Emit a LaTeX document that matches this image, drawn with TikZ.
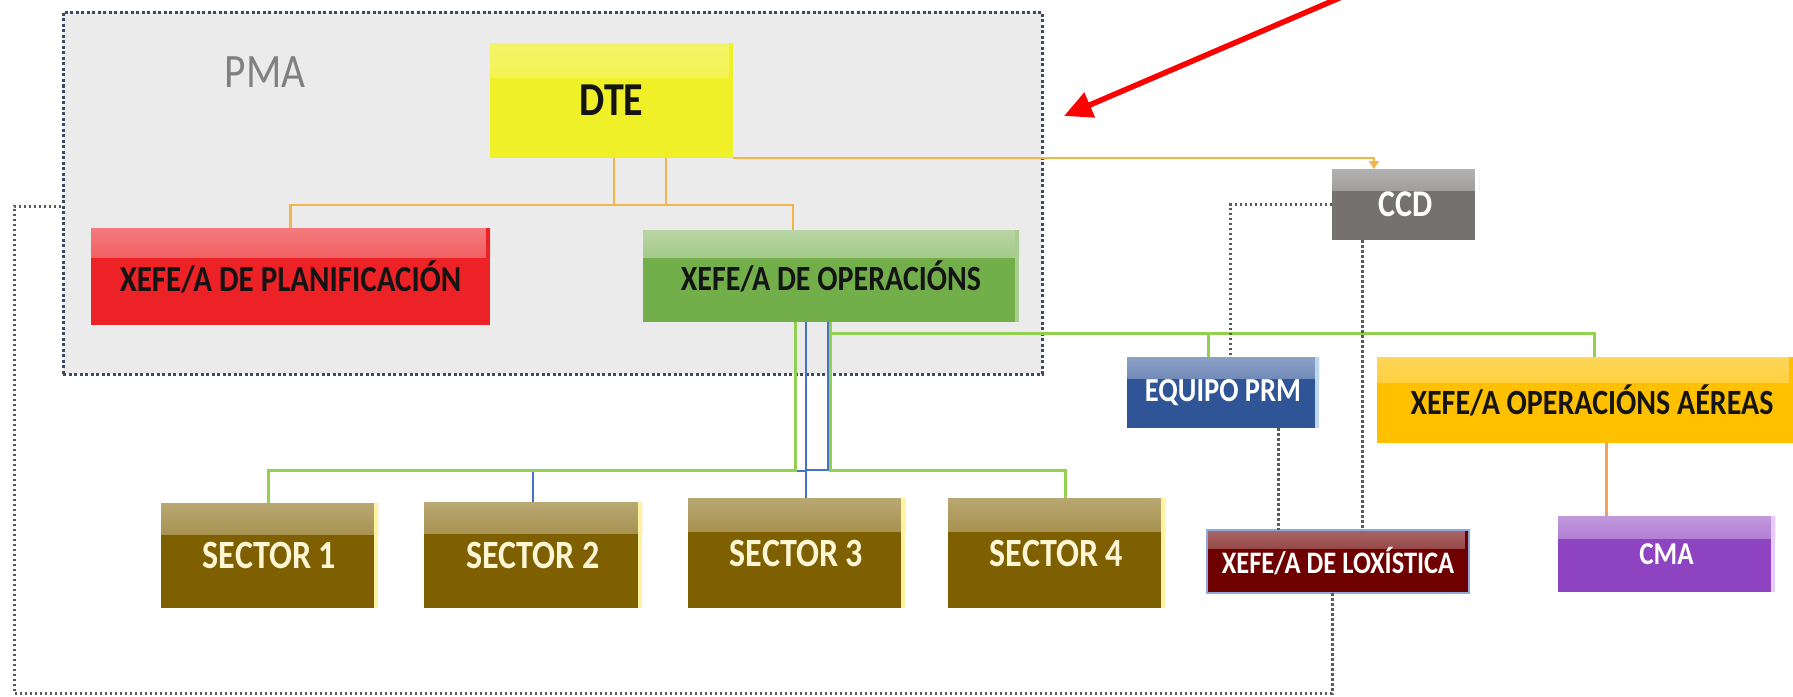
\documentclass[tikz,border=0pt]{standalone}
\usepackage{fontspec}
\setmainfont{Carlito}
\usetikzlibrary{calc,arrows.meta}
\definecolor{pmafill}{HTML}{EBEBEB}
\definecolor{pmaline}{HTML}{3C4A66}
\definecolor{dteY}{HTML}{F0F028}
\definecolor{planR}{HTML}{EC2227}
\definecolor{operG}{HTML}{72AE4A}
\definecolor{sectC}{HTML}{7F6000}
\definecolor{sectRim}{HTML}{FFF2A0}
\definecolor{ccdG}{HTML}{767171}
\definecolor{prmB}{HTML}{2F5597}
\definecolor{prmRim}{HTML}{BDD7EE}
\definecolor{aerY}{HTML}{FFC000}
\definecolor{loxR}{HTML}{6E0000}
\definecolor{loxBorder}{HTML}{8FAADC}
\definecolor{cmaP}{HTML}{8E44C0}
\definecolor{cmaRim}{HTML}{E6CCFA}
\definecolor{orl}{HTML}{F4B448}
\definecolor{grl}{HTML}{92D050}
\definecolor{bll}{HTML}{4472C4}
\definecolor{cmaO}{HTML}{F5A05A}
\definecolor{dotg}{HTML}{5A5A5A}
\definecolor{lighttxt}{HTML}{FFF6D5}
\definecolor{darktxt}{HTML}{141414}
\newcommand\fsz[1]{\fontsize{#1}{#1}\selectfont\bfseries}
\newcommand\tx[1]{\scalebox{1}[1.18]{#1}}
\begin{document}
\begin{tikzpicture}[x=1pt,y=-1pt,
  box/.style={rectangle, inner sep=0pt, outer sep=0pt, align=center},
  bev/.style n args={3}{fill=#1, /utils/exec={\colorlet{mc}{#1}\colorlet{rc}{#2}},
    path picture={
      \shade[top color=mc!#3!white, bottom color=mc]
        (path picture bounding box.north west) rectangle
        ($(path picture bounding box.north east)!0.3!(path picture bounding box.south east)$);
      \fill[rc] ($(path picture bounding box.north east)+(-4pt,0pt)$) rectangle (path picture bounding box.south east);
    }},
  orline/.style={draw=orl, line width=2.5pt},
  grline/.style={draw=grl, line width=3pt},
  blline/.style={draw=bll, line width=2.5pt},
  dotline/.style={draw=dotg, line width=3pt, dash pattern=on 2.5pt off 2.5pt},
]
\useasboundingbox (0,0) rectangle (1793,696);
\fill[white] (0,0) rectangle (1793,696);

% PMA frame
\node[box, fill=pmafill, draw=pmaline, line width=3pt, dash pattern=on 3pt off 2.5pt,
  minimum width=979pt, minimum height=362pt] (pma) at (552.5,193) {};
\node[text=gray, font=\fontsize{48}{48}\selectfont] (pmalbl) at (265,72) {\scalebox{0.86}[1]{PMA}};

% boxes
\node[box, bev={dteY}{dteY}{70}, minimum width=243pt, minimum height=115pt, text=darktxt, font=\fsz{40}] (dte) at (611.5,100.5) {\tx{DTE}};
\node[box, bev={planR}{planR}{60}, minimum width=399pt, minimum height=97pt, text=darktxt, font=\fsz{31}] (plan) at (290.5,276.5) {\tx{XEFE/A DE PLANIFICACIÓN}};
\node[box, bev={operG}{operG!60!white}{50}, minimum width=376pt, minimum height=92pt, text=darktxt, font=\fsz{30}] (oper) at (831,276) {\tx{XEFE/A DE OPERACIÓNS}};
\node[box, bev={ccdG}{white}{55}, minimum width=147pt, minimum height=71pt, text=white, font=\fsz{32}] (ccd) at (1405.5,204.5) {\tx{CCD}};
\node[box, bev={prmB}{prmRim}{55}, minimum width=192pt, minimum height=71pt, text=white, font=\fsz{28.5}] (prm) at (1223,392.5) {\tx{EQUIPO PRM}};
\node[box, bev={aerY}{aerY}{65}, minimum width=416pt, minimum height=86pt, text=darktxt, font=\fsz{30}] (aer) at (1585,400) {\hspace*{14pt}\tx{XEFE/A OPERACIÓNS AÉREAS}};
\node[box, bev={loxR}{loxR}{60}, draw=loxBorder, line width=2pt, minimum width=262pt, minimum height=63pt, text=white, font=\fsz{26.5}] (lox) at (1338,561.5) {\tx{XEFE/A DE LOXÍSTICA}};
\node[box, bev={cmaP}{cmaRim}{55}, minimum width=217pt, minimum height=76pt, text=white, font=\fsz{27}] (cma) at (1666.5,554) {\tx{CMA}};
\node[box, bev={sectC}{sectRim}{55}, minimum width=217pt, minimum height=105pt, text=lighttxt, font=\fsz{34}] (s1) at (269.5,555.5) {\tx{SECTOR 1}};
\node[box, bev={sectC}{sectRim}{55}, minimum width=218pt, minimum height=106pt, text=lighttxt, font=\fsz{34}] (s2) at (533,555) {\tx{SECTOR 2}};
\node[box, bev={sectC}{sectRim}{55}, minimum width=217pt, minimum height=110pt, text=lighttxt, font=\fsz{34}] (s3) at (796.5,553) {\tx{SECTOR 3}};
\node[box, bev={sectC}{sectRim}{55}, minimum width=217pt, minimum height=110pt, text=lighttxt, font=\fsz{34}] (s4) at (1056.5,553) {\tx{SECTOR 4}};

% orange connectors from DTE
\draw[orline] (614,0 |- dte.south) -- (614,205);
\draw[orline] (666,0 |- dte.south) -- (666,205);
\draw[orline] (plan.north) -- (290.5,205) -- (793,205) -- (793,0 |- oper.north);
\draw[orline, -{Triangle[length=8pt,width=10pt]}] (dte.south east) -- (1374,158) -- (1374,0 |- ccd.north);

% blue connectors
\draw[blline] (806,0 |- oper.south) -- (806,470) -- (828,470) -- (828,0 |- oper.south);
\draw[blline] (533,0 |- s2.north) -- (533,471) -- (806,471) -- (806,0 |- s3.north);

% green connectors
\draw[grline] (795,0 |- oper.south) -- (795,470) -- (268,470) -- (268,0 |- s1.north);
\draw[grline] (830,0 |- oper.south) -- (830,470) -- (1065,470) -- (1065,0 |- s4.north);
\draw[grline] (830,333) -- (1594,333) -- (1594,0 |- aer.north);
\draw[grline] (1208,333) -- (1208,0 |- prm.north);

% orange to CMA
\draw[draw=cmaO, line width=3pt] (1606,0 |- aer.south) -- (1606,0 |- cma.north);

% dotted connectors
\draw[dotline] (ccd.west) -- (1230,0 |- ccd.west) -- (1230,0 |- prm.north);
\draw[dotline] (1362,0 |- ccd.south) -- (1362,0 |- lox.north);
\draw[dotline] (1278,0 |- prm.south) -- (1278,0 |- lox.north);
\draw[dotline] (1332,0 |- lox.south) -- (1332,693) -- (14,693) -- (14,206) -- (pma.west |- 0,206);

% red arrow
\coordinate (arrS) at (1344,-4);
\coordinate (arrE) at (1064,116);
\draw[red, line width=5.5pt, -{Triangle[length=28pt,width=26pt]}] (arrS) -- (arrE);
\end{tikzpicture}
\end{document}
